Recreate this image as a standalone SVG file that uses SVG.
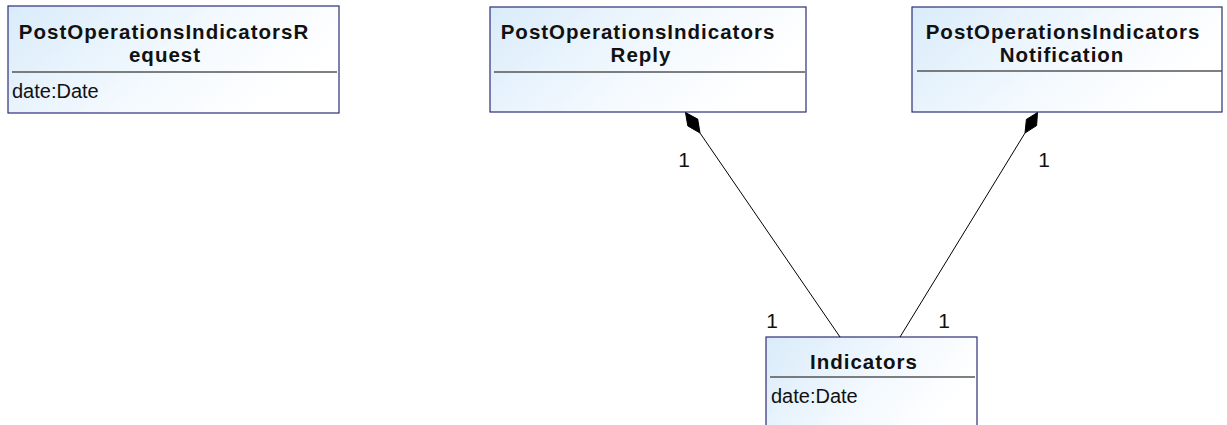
<svg xmlns="http://www.w3.org/2000/svg" width="1227" height="425" viewBox="0 0 1227 425">
<defs>
<linearGradient id="bg" x1="0" y1="0" x2="1" y2="0.4">
<stop offset="0" stop-color="#d9ebfa"/>
<stop offset="0.6" stop-color="#f3f9fe"/>
<stop offset="1" stop-color="#ffffff"/>
</linearGradient>
<style>
.box{fill:url(#bg);stroke:#2e2e78;stroke-width:1.2}
.sep{stroke:#555;stroke-width:1.5}
.title{font-family:"Liberation Sans",Arial,sans-serif;font-weight:bold;font-size:20.5px;fill:#111;text-anchor:middle;letter-spacing:1px}
.attr{font-family:"Liberation Sans",Arial,sans-serif;font-size:20px;fill:#111}
.mult{font-family:"Liberation Sans",Arial,sans-serif;font-size:21px;fill:#111;text-anchor:middle}
.conn{stroke:#000;stroke-width:1;fill:none}
.dia{fill:#000;stroke:#000;stroke-width:1}
</style>
</defs>
<rect width="1227" height="425" fill="#fff"/>
<g id="node-request">
<rect class="box" x="8" y="6" width="331" height="107"/>
<line class="sep" x1="12" y1="72" x2="337" y2="72"/>
<text class="title" x="164" y="39">PostOperationsIndicatorsR</text>
<text class="title" x="165" y="62">equest</text>
<text class="attr" x="12" y="98">date:Date</text>
</g>
<g id="node-reply">
<rect class="box" x="490" y="7" width="316" height="105"/>
<line class="sep" x1="494" y1="72" x2="805" y2="72"/>
<text class="title" x="638" y="39">PostOperationsIndicators</text>
<text class="title" x="641" y="62">Reply</text>
</g>
<g id="node-notification">
<rect class="box" x="912" y="7" width="310" height="105"/>
<line class="sep" x1="917" y1="71" x2="1222" y2="71"/>
<text class="title" x="1063" y="39">PostOperationsIndicators</text>
<text class="title" x="1062" y="62">Notification</text>
</g>
<g id="node-indicators">
<rect class="box" x="766" y="337" width="211" height="100"/>
<line class="sep" x1="770" y1="377" x2="975" y2="377"/>
<text class="title" x="864" y="369">Indicators</text>
<text class="attr" x="771" y="403">date:Date</text>
</g>
<g id="connectors">
<line class="conn" x1="700" y1="133" x2="840" y2="337"/>
<polygon class="dia" points="685.5,112.5 697.7,119.1 700,133 687.8,125.9"/>
<line class="conn" x1="1025" y1="133" x2="900" y2="337"/>
<polygon class="dia" points="1037.5,112.5 1036.6,125.6 1025,133 1026.4,119.4"/>
<text class="mult" x="684" y="167">1</text>
<text class="mult" x="1044" y="167">1</text>
<text class="mult" x="772" y="328">1</text>
<text class="mult" x="944" y="328">1</text>
</g>
</svg>
